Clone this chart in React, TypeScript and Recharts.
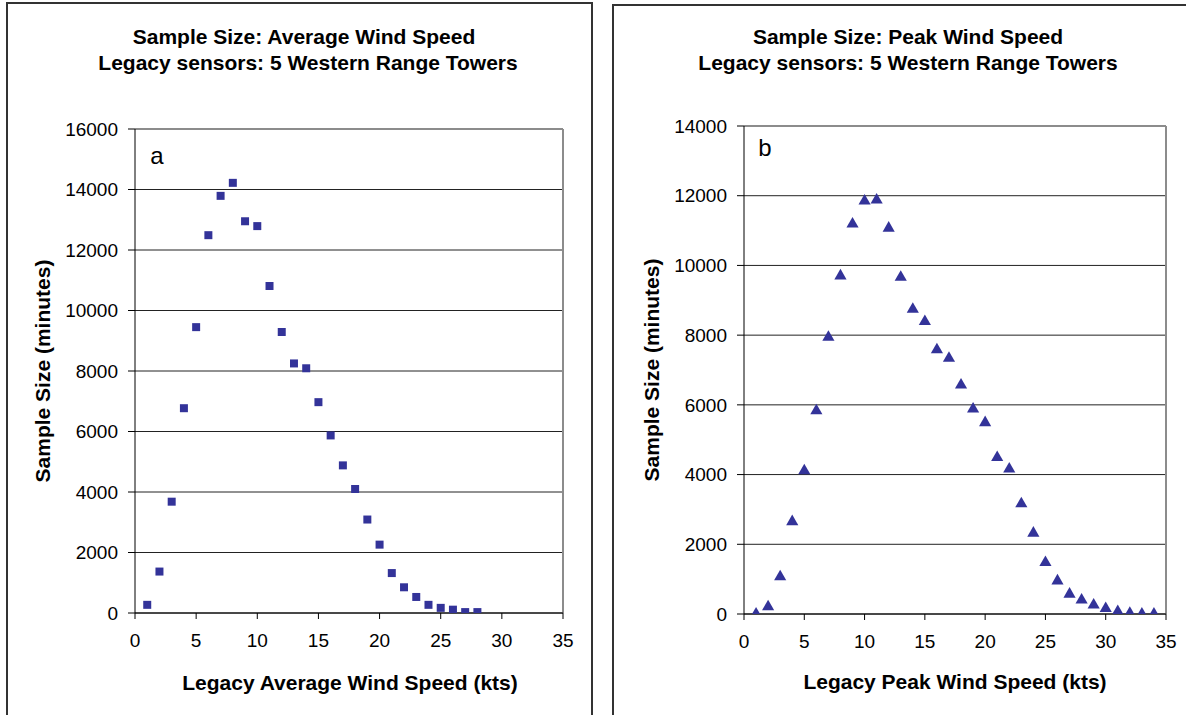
import React from 'react';
import {
  ScatterChart, Scatter, XAxis, YAxis, ZAxis, CartesianGrid, ReferenceLine,
} from 'recharts';

// wind speed (kts) and sample sizes (minutes)
const avgSpeed = [1, 2, 3, 4, 5, 6, 7, 8, 9, 10, 11, 12, 13, 14, 15, 16, 17, 18, 19, 20, 21, 22, 23, 24, 25, 26, 27, 28];
const avgCount = [270, 1370, 3680, 6770, 9450, 12490, 13790, 14220, 12950, 12790, 10810, 9290, 8250, 8090, 6970, 5870, 4880, 4100, 3090, 2260, 1320, 850, 530, 270, 170, 110, 30, 30];

const peakSpeed = [1, 2, 3, 4, 5, 6, 7, 8, 9, 10, 11, 12, 13, 14, 15, 16, 17, 18, 19, 20, 21, 22, 23, 24, 25, 26, 27, 28, 29, 30, 31, 32, 33, 34];
const peakCount = [0, 210, 1070, 2650, 4110, 5830, 7940, 9700, 11190, 11850, 11880, 11070, 9660, 8740, 8390, 7580, 7340, 6570, 5880, 5490, 4490, 4160, 3160, 2320, 1480, 950, 570, 400, 260, 160, 70, 20, 0, 0];

const xTicks = [0, 5, 10, 15, 20, 25, 30, 35];
const avgTicks = [0, 2000, 4000, 6000, 8000, 10000, 12000, 14000, 16000];
const peakTicks = [0, 2000, 4000, 6000, 8000, 10000, 12000, 14000];

const avgData = avgSpeed.map((x, i) => ({ x, y: avgCount[i] }));
const peakData = peakSpeed.map((x, i) => ({ x, y: peakCount[i] }));

const FONT = 'Arial, "Liberation Sans", sans-serif';
const MARK = '#333399';
const tickStyle = { fill: '#000', fontSize: 19, fontFamily: FONT };

function Txt({ x, y, children, size = 21, bold = true, rotate = false }: any) {
  return (
    <div
      style={{
        position: 'absolute', left: x, top: y, whiteSpace: 'nowrap',
        transform: `translate(-50%, -50%)${rotate ? ' rotate(-90deg)' : ''}`,
        fontSize: size, fontWeight: bold ? 'bold' : 'normal', fontFamily: FONT, color: '#000',
        lineHeight: 1,
      }}
    >
      {children}
    </div>
  );
}

function Panel({ data, ticks, yMax, shape, size, margin, width }: any) {
  return (
    <ScatterChart width={width} height={715} margin={margin}>
      <CartesianGrid horizontal vertical={false} stroke="#222" horizontalValues={ticks} />
      <XAxis
        type="number" dataKey="x" domain={[0, 35]} ticks={xTicks} height={30}
        stroke="#000" tickSize={6} tickMargin={15} tick={tickStyle} allowDataOverflow
      />
      <YAxis
        type="number" dataKey="y" domain={[0, yMax]} ticks={ticks} width={60}
        stroke="#000" tickSize={7} tickMargin={10} tick={tickStyle} allowDataOverflow
      />
      <ZAxis type="number" range={[size, size]} />
      <ReferenceLine y={yMax} stroke="#8c8c8c" strokeWidth={2} />
      <ReferenceLine x={35} stroke="#8c8c8c" strokeWidth={2} />
      <Scatter data={data} fill={MARK} shape={shape} isAnimationActive={false} />
    </ScatterChart>
  );
}

export default function App() {
  return (
    <div style={{ position: 'absolute', left: 0, top: 0, width: 1186, height: 715, overflow: 'hidden', background: '#fff' }}>
      {/* frames */}
      <div style={{ position: 'absolute', left: 6, top: 2, width: 587, height: 730, border: '2px solid #333', boxSizing: 'border-box' }} />
      <div style={{ position: 'absolute', left: 612, top: 4, width: 600, height: 730, border: '2px solid #333', boxSizing: 'border-box' }} />

      {/* a: average wind speed */}
      <div style={{ position: 'absolute', left: 0, top: 0 }}>
        <Panel
          data={avgData} ticks={avgTicks} yMax={16000} shape="square" size={81} width={600}
          margin={{ top: 129, right: 37, left: 75, bottom: 72 }}
        />
      </div>
      <Txt x={304} y={36}>Sample Size: Average Wind Speed</Txt>
      <Txt x={308} y={62}>Legacy sensors: 5 Western Range Towers</Txt>
      <Txt x={42} y={371} rotate>Sample Size (minutes)</Txt>
      <Txt x={350} y={682}>Legacy Average Wind Speed (kts)</Txt>
      <Txt x={157} y={156} size={24} bold={false}>a</Txt>

      {/* b: peak wind speed */}
      <div style={{ position: 'absolute', left: 600, top: 0 }}>
        <Panel
          data={peakData} ticks={peakTicks} yMax={14000} shape="triangle" size={48} width={586}
          margin={{ top: 126, right: 20, left: 84, bottom: 71 }}
        />
      </div>
      <Txt x={908} y={36}>Sample Size: Peak Wind Speed</Txt>
      <Txt x={908} y={62}>Legacy sensors: 5 Western Range Towers</Txt>
      <Txt x={651} y={370} rotate>Sample Size (minutes)</Txt>
      <Txt x={955} y={681}>Legacy Peak Wind Speed (kts)</Txt>
      <Txt x={765} y={148} size={24} bold={false}>b</Txt>
    </div>
  );
}
